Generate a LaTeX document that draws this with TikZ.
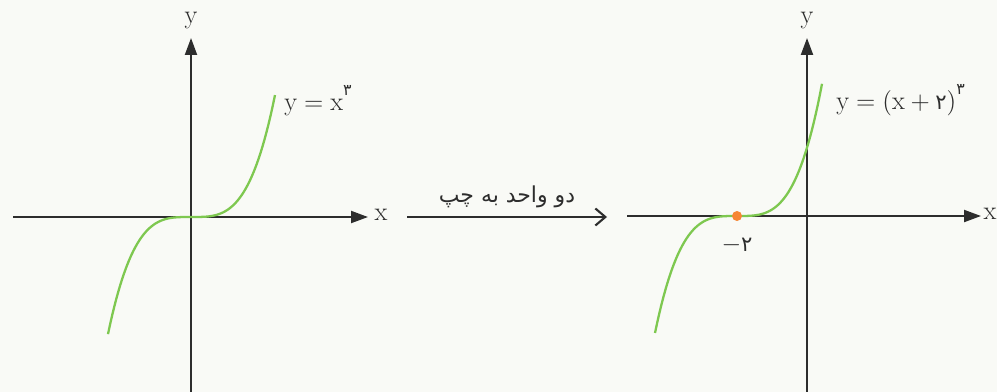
\documentclass[tikz,border=0pt]{standalone}
\usepackage{fontspec}
\newfontfamily\arabicfont[Script=Arabic]{DejaVu Sans}
\TeXXeTstate=1
\usepackage{xcolor}
\usetikzlibrary{arrows.meta}
\definecolor{curvegreen}{RGB}{126,200,80}
\definecolor{rootorange}{RGB}{246,134,52}
\definecolor{axisgray}{RGB}{45,45,45}
\definecolor{paper}{RGB}{249,250,246}
\newcommand{\fa}[1]{{\fontsize{12}{14}\selectfont\arabicfont #1}}
\newcommand{\faexp}[1]{\raisebox{1.3ex}{\fontsize{9}{10}\selectfont\arabicfont #1}}

\begin{document}
\begin{tikzpicture}[x=0.02cm, y=-0.02cm,
    axis/.style={axisgray, line width=1.2pt, -{Triangle[length=0.34cm, width=0.24cm]}},
    curve/.style={curvegreen, line width=1.3pt},
    lbl/.style={font=\fontsize{15}{18}\selectfont, text=axisgray, inner sep=0pt}]
\fill[paper] (0,0) rectangle (997,392);
\useasboundingbox (0,0) rectangle (997,392);

% left graph
\coordinate (lxs) at (13,217);
\coordinate (lxe) at (368,217);
\coordinate (lys) at (191,395);
\coordinate (lye) at (191,38);
\draw[axis] (lxs) -- (lxe);
\draw[axis] (lys) -- (lye);
\node[lbl] (lx) at (381,215) {x};
\node[lbl] (ly) at (191,21) {y};
\draw[curve] plot[domain=-83:84, samples=81] ({\x+191}, {217-127*sign(\x)*pow(abs(\x/85),3.4)});
\node[lbl, anchor=west] (lf) at (284,101) {$\mathrm{y}=\mathrm{x}$\faexp{۳}};

% shift arrow
\coordinate (sa) at (407,217);
\coordinate (se) at (607,217);
\draw[axisgray, line width=1.2pt, -{Straight Barb[length=0.2cm, width=0.34cm]}] (sa) -- (se);
\node[font=\fontsize{12.5}{14}\selectfont, text=axisgray] (sl) at (507,197) {{\arabicfont\beginR دو واحد به چپ\endR}};

% right graph
\coordinate (rxs) at (627,216);
\coordinate (rxe) at (981,216);
\coordinate (rys) at (807,395);
\coordinate (rye) at (807,38);
\draw[axis] (rxs) -- (rxe);
\draw[axis] (rys) -- (rye);
\node[lbl] (rx) at (990,214) {x};
\node[lbl] (ry) at (807,21) {y};
\draw[curve] plot[domain=-82:85, samples=81] ({\x+737}, {216-127*sign(\x)*pow(abs(\x/84),3.4)});
\node[lbl, anchor=west] (rf) at (836,100) {$\mathrm{y}=(\mathrm{x}+\mbox{\fa{۲}})$\faexp{۳}};
\coordinate (root) at (737,216);
\fill[rootorange] (root) circle (0.1cm);
\node[lbl] (rl) at (737,245) {$-$\fa{۲}};
\end{tikzpicture}
\end{document}
